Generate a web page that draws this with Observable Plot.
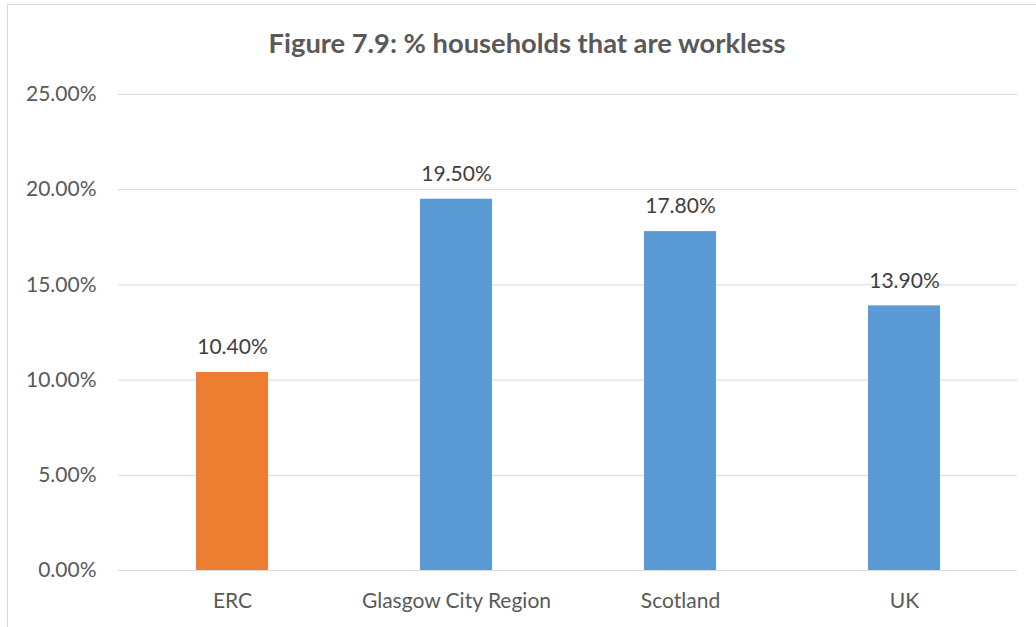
<!DOCTYPE html>
<html>
<head>
<meta charset="utf-8">
<script src="https://cdn.jsdelivr.net/npm/d3@7"></script>
<script src="https://cdn.jsdelivr.net/npm/@observablehq/plot@0.6"></script>
<style>
  html, body { margin: 0; padding: 0; background: #fff; width: 1036px; height: 627px; overflow: hidden; }
  #frame { position: absolute; left: 7px; top: 4px; width: 1100px; height: 700px; border: 1.5px solid #d9d9d9; box-sizing: border-box; }
  #title { position: absolute; left: 0; width: 1054px; top: 27px; text-align: center; font-family: Lato, "Open Sans", sans-serif; font-weight: bold; font-size: 27.3px; color: #595959; line-height: 32px; }
  #chart { position: absolute; left: 0; top: 0; }
</style>
</head>
<body>
<div id="frame"></div>
<div id="title">Figure 7.9: % households that are workless</div>
<div id="chart"></div>
<script>
const categories = ["ERC", "Glasgow City Region", "Scotland", "UK"];
const values = [10.4, 19.5, 17.8, 13.9];
const yTicks = [0, 5, 10, 15, 20, 25];
const highlight = "ERC";

const data = categories.map((c, i) => ({category: c, value: values[i]}));
const fmt = v => v.toFixed(2) + "%";

const chart = Plot.plot({
  width: 1036,
  height: 627,
  marginTop: 94,
  marginBottom: 57,
  marginLeft: 118,
  marginRight: 19,
  style: {fontFamily: "Lato, 'Open Sans', sans-serif", fontSize: "21px", color: "#595959", background: "transparent"},
  x: {domain: categories, paddingInner: 0.68, paddingOuter: 0.34, label: null, tickSize: 0, tickPadding: 23},
  y: {domain: [0, 25], ticks: yTicks, tickFormat: fmt, label: null, tickSize: 0, tickPadding: 22},
  marks: [
    Plot.gridY(yTicks, {stroke: "#d9d9d9", strokeOpacity: 1, strokeWidth: 1}),
    Plot.barY(data, {x: "category", y: "value", fill: d => d.category === highlight ? "#ED7D31" : "#5B9BD5"}),
    Plot.text(data, {x: "category", y: "value", text: d => fmt(d.value), dy: -25, fill: "#404040", fontSize: 21})
  ]
});
document.getElementById("chart").appendChild(chart);
</script>
</body>
</html>
